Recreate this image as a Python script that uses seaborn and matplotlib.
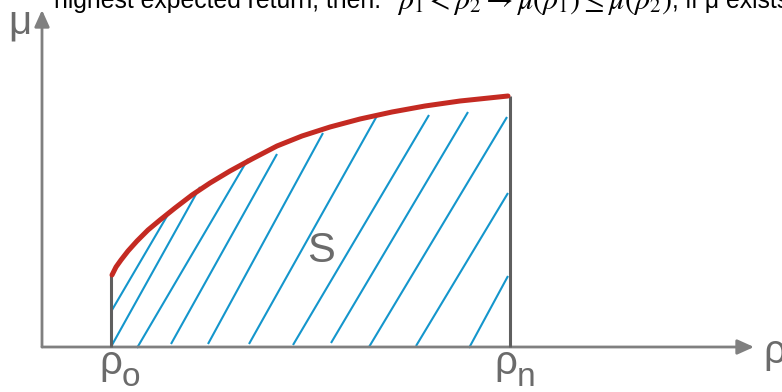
import matplotlib
matplotlib.use("Agg")
import matplotlib.pyplot as plt
from matplotlib.patches import FancyArrowPatch
from matplotlib.collections import LineCollection
import seaborn as sns
import pandas as pd

# Efficient frontier: risk (rho) against expected return (mu), drawn in canvas units
frontier_rho = [112, 116, 121, 128, 137, 148, 160, 175, 192, 210, 230, 252,
                277, 302, 330, 360, 392, 425, 460, 508]
frontier_mu = [275, 267, 260, 251, 241, 230, 220, 208, 195, 183, 171, 159,
               146, 136, 127, 119, 112, 106, 101, 96]

# Hatching of the region S under the frontier
hatch_x0 = [112, 112, 137, 171, 208, 249, 293, 331, 369, 416, 469]
hatch_y0 = [310, 345, 348, 344, 344, 344, 345, 343, 347, 346, 348]
hatch_x1 = [170, 200, 248, 277, 323, 378, 429, 468, 507, 508, 508]
hatch_y1 = [211, 187, 159, 154, 133, 114, 115, 112, 117, 193, 276]

# Axis geometry
origin = (42, 347)
x_end = 754
y_end = 10
rho_o = 111
rho_n = 510

sns.set_theme(style="white")
plt.rcParams["font.family"] = ["Liberation Sans", "DejaVu Sans"]
plt.rcParams["mathtext.fontset"] = "stix"

fig = plt.figure(figsize=(7.82, 3.92), dpi=100)
ax = fig.add_axes([0, 0, 1, 1])

AXIS_GRAY = "#808080"
EDGE_GRAY = "#5f5f5f"
LABEL_GRAY = "#6b6b6b"
BLUE = "#1496cc"
RED = "#c42a22"

# hatch lines
segs = [[(a, b), (c, d)] for a, b, c, d in zip(hatch_x0, hatch_y0, hatch_x1, hatch_y1)]
ax.add_collection(LineCollection(segs, colors=BLUE, linewidths=1.5, zorder=2))

# axes with arrow heads
for end in [(x_end, origin[1]), (origin[0], y_end)]:
    ax.add_patch(FancyArrowPatch(origin, end,
                                 arrowstyle="-|>,head_length=10,head_width=4.5",
                                 mutation_scale=1, color=AXIS_GRAY, lw=2, zorder=3,
                                 shrinkA=0, shrinkB=0))

# boundaries of S at rho_o and rho_n
ax.plot([rho_o, rho_o], [origin[1], frontier_mu[0]], color=EDGE_GRAY, lw=2.2, zorder=3,
        solid_capstyle="butt")
ax.plot([rho_n, rho_n], [origin[1], frontier_mu[-1]], color=EDGE_GRAY, lw=2.2, zorder=3,
        solid_capstyle="butt")

# frontier curve
df = pd.DataFrame({"rho": frontier_rho, "mu": frontier_mu})
sns.lineplot(data=df, x="rho", y="mu", sort=False, color=RED, linewidth=3.6,
             ax=ax, zorder=4, estimator=None)
ax.lines[-1].set_solid_joinstyle("round")
ax.set_xlim(0, 782)
ax.set_ylim(392, 0)
ax.axis("off")

# labels
ax.text(8, 33, "μ", fontsize=29, color=LABEL_GRAY, va="baseline", ha="left")
ax.text(763, 363, "ρ", fontsize=29, color=LABEL_GRAY, va="baseline", ha="left")
ax.text(99, 374, "ρ", fontsize=29, color=LABEL_GRAY, va="baseline", ha="left")
ax.text(122, 386, "o", fontsize=24, color=LABEL_GRAY, va="baseline", ha="left")
ax.text(494, 374, "ρ", fontsize=29, color=LABEL_GRAY, va="baseline", ha="left")
ax.text(517, 386, "n", fontsize=24, color=LABEL_GRAY, va="baseline", ha="left")
ax.text(307, 262, "S", fontsize=30, color=LABEL_GRAY, va="baseline", ha="left")

# heading line: prose, the monotonicity condition, then the closing clause
ax.text(54, 8, "highest expected return, then:",
        fontsize=17.8, color="black", va="baseline", ha="left", clip_on=False)
ax.text(397, 9, r"$\rho_1 < \rho_2 \rightarrow \mu(\rho_1) \leq \mu(\rho_2)$",
        fontsize=21.5, color="black", va="baseline", ha="left", clip_on=False)
ax.text(672, 8, ", if μ exists",
        fontsize=17.8, color="black", va="baseline", ha="left", clip_on=False)

fig.savefig("out.png", dpi=100)
